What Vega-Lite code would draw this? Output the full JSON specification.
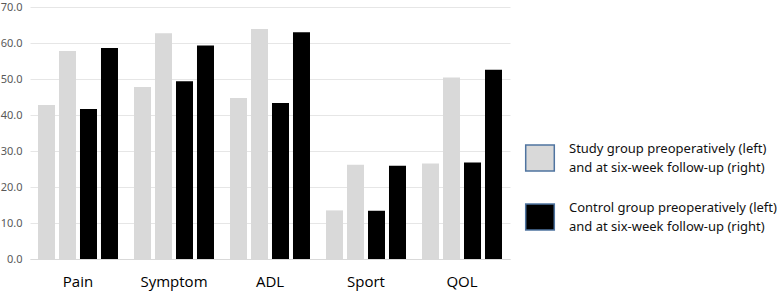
{
  "$schema": "https://vega.github.io/schema/vega-lite/v6.json",
  "width": 480,
  "height": 252,
  "autosize": "none",
  "padding": {"left": 30, "top": 7, "right": 268, "bottom": 33},
  "background": "white",
  "config": {"view": {"stroke": null}, "font": "Noto Sans"},
  "data": {
    "values": [
      {"category": "Pain", "series": "S1", "group": "Study", "value": 42.8},
      {"category": "Pain", "series": "S2", "group": "Study", "value": 57.8},
      {"category": "Pain", "series": "C1", "group": "Control", "value": 41.7},
      {"category": "Pain", "series": "C2", "group": "Control", "value": 58.6},
      {"category": "Symptom", "series": "S1", "group": "Study", "value": 47.8},
      {"category": "Symptom", "series": "S2", "group": "Study", "value": 62.7},
      {"category": "Symptom", "series": "C1", "group": "Control", "value": 49.4},
      {"category": "Symptom", "series": "C2", "group": "Control", "value": 59.3},
      {"category": "ADL", "series": "S1", "group": "Study", "value": 44.7},
      {"category": "ADL", "series": "S2", "group": "Study", "value": 63.9},
      {"category": "ADL", "series": "C1", "group": "Control", "value": 43.3},
      {"category": "ADL", "series": "C2", "group": "Control", "value": 63.0},
      {"category": "Sport", "series": "S1", "group": "Study", "value": 13.5},
      {"category": "Sport", "series": "S2", "group": "Study", "value": 26.2},
      {"category": "Sport", "series": "C1", "group": "Control", "value": 13.4},
      {"category": "Sport", "series": "C2", "group": "Control", "value": 25.9},
      {"category": "QOL", "series": "S1", "group": "Study", "value": 26.5},
      {"category": "QOL", "series": "S2", "group": "Study", "value": 50.4},
      {"category": "QOL", "series": "C1", "group": "Control", "value": 26.8},
      {"category": "QOL", "series": "C2", "group": "Control", "value": 52.6}
    ]
  },
  "mark": {"type": "bar"},
  "encoding": {
    "x": {
      "field": "category",
      "type": "nominal",
      "sort": ["Pain", "Symptom", "ADL", "Sport", "QOL"],
      "scale": {"paddingInner": 0.1667, "paddingOuter": 0.0833},
      "axis": {
        "title": null,
        "labelAngle": 0,
        "ticks": false,
        "domain": true,
        "domainColor": "#d9d9d9",
        "labelFontSize": 15,
        "labelColor": "#000000",
        "labelPadding": 15,
        "labelFont": "Open Sans"
      }
    },
    "xOffset": {
      "field": "series",
      "type": "nominal",
      "sort": ["S1", "S2", "C1", "C2"],
      "scale": {"paddingInner": 0.19, "paddingOuter": 0}
    },
    "y": {
      "field": "value",
      "type": "quantitative",
      "scale": {"domain": [0, 70], "nice": false},
      "axis": {
        "title": null,
        "values": [0, 10, 20, 30, 40, 50, 60, 70],
        "format": ".1f",
        "domain": false,
        "ticks": false,
        "gridColor": "#e6e6e6",
        "labelColor": "#595959",
        "labelFontSize": 11,
        "labelPadding": 8
      }
    },
    "color": {
      "field": "group",
      "type": "nominal",
      "scale": {"domain": ["Study", "Control"], "range": ["#d9d9d9", "#000000"]},
      "legend": {
        "title": null,
        "orient": "none",
        "legendX": 496,
        "legendY": 137,
        "symbolType": "M-1.1,-1H1.1V1H-1.1Z",
        "symbolSize": 676,
        "symbolStrokeColor": "#4f74a0",
        "symbolStrokeWidth": 1.5,
        "symbolOpacity": 1,
        "labelOffset": 15,
        "labelFontSize": 13,
        "labelColor": "#111111",
        "labelLimit": 300,
        "rowPadding": 26,
        "labelExpr": "datum.label == 'Study' ? ['Study group preoperatively (left)', 'and at six-week follow-up (right)'] : ['Control group preoperatively (left)', ' and at six-week follow-up (right)']",
        "encode": {
          "symbols": {"update": {
            "fill": {"signal": "datum.value == 'Study' ? '#c4c4c4' : '#000000'"},
            "stroke": {"value": "#4f74a0"},
            "strokeWidth": {"value": 1.5},
            "opacity": {"value": 1}
          }},
          "labels": {"update": {"lineHeight": {"value": 19}, "dy": {"value": -9}}}
        }
      }
    }
  }
}
